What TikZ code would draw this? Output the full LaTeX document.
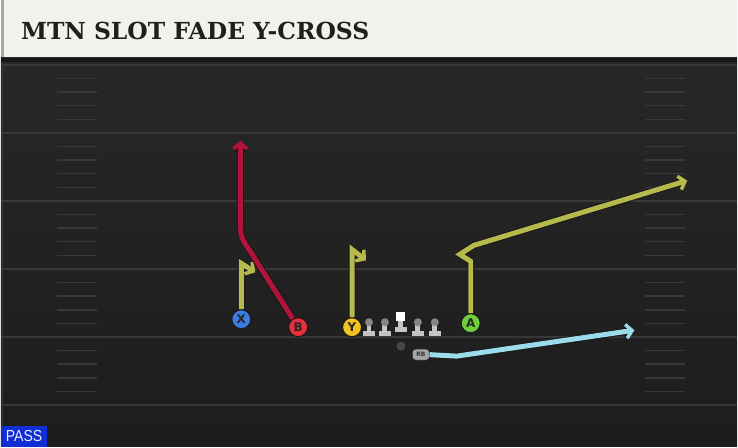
\documentclass[tikz,border=0pt]{standalone}
\usepackage{fontspec}
\usetikzlibrary{positioning, arrows.meta}

\newfontfamily\titlefont{DejaVu Serif}
\newfontfamily\labelfont{DejaVu Sans}
\newfontfamily\passfont{Liberation Sans}

\definecolor{header}{HTML}{F3F1EC}
\definecolor{fieldtop}{HTML}{272727}
\definecolor{fieldbot}{HTML}{1D1D1D}
\definecolor{yardline}{HTML}{383838}
\definecolor{routeolive}{HTML}{B6B94C}
\definecolor{routered}{HTML}{B0143A}
\definecolor{routeblue}{HTML}{9ADCEA}
\definecolor{xblue}{HTML}{3C7BE0}
\definecolor{bred}{HTML}{E5303D}
\definecolor{yyellow}{HTML}{F2C21F}
\definecolor{agreen}{HTML}{6FCF3C}
\definecolor{passblue}{HTML}{0F2ED6}
\definecolor{linegray}{HTML}{C4C4C4}

\begin{document}
\begin{tikzpicture}[x=1pt, y=-1pt,
  player/.style={draw=black!90, line width=1pt, circle, minimum size=19pt, inner sep=0pt,
    font=\labelfont\bfseries\fontsize{12}{12}\selectfont, text=black!85},
  lhead/.style={circle, fill=gray!95, minimum size=8pt, inner sep=0pt},
  route/.style={line width=5pt, -{Straight Barb[length=6pt, width=14pt, line width=0pt 0.7]},
    preaction={draw=black!90, line width=7pt}},
  hash/.style={yardline, line width=1.5pt}]

% header
\fill[header] (0,0) rectangle (738,58);
\fill[gray!70] (0,0) rectangle (3,58);
\node[anchor=west, inner sep=0pt, font=\titlefont\bfseries\fontsize{23.5}{23.5}\selectfont, text=black!88] (title) at (20,31) {MTN SLOT FADE Y-CROSS};

% field
\shade[top color=fieldtop, bottom color=fieldbot] (0,58) rectangle (738,448);
\fill[black!90] (0,58) rectangle (738,62);
\draw[yardline, line width=1pt] (2,62) -- (2,448);

\foreach \yl in {65, 133.2, 201.4, 269.6, 337.8, 406}
  \draw[yardline, line width=1.8pt] (0,\yl) -- (738,\yl);

\foreach \k in {0,...,4}
  \foreach \i in {1,...,4} {
    \pgfmathsetmacro\hy{65+68.2*\k+13.64*\i}
    \draw[hash] (56,\hy) -- (96,\hy);
    \draw[hash] (646,\hy) -- (686,\hy);
  }

% players
\node[player, fill=xblue] (X) at (241,320) {X};
\node[player, fill=bred] (B) at (298,328) {B};
\node[player, fill=yyellow] (Y) at (352,328) {Y};
\node[player, fill=agreen] (A) at (471,324) {A};

% line
\fill[linegray] (366.5,325) rectangle (371.5,334);
\fill[linegray] (363,332) rectangle (375,337);
\node[lhead] (LT) at (369,323) {};
\fill[linegray] (382.5,325) rectangle (387.5,334);
\fill[linegray] (379,332) rectangle (391,337);
\node[lhead] (LG) at (385,323) {};
\fill[linegray] (398.5,321) rectangle (403.5,330);
\fill[linegray] (395,328) rectangle (407,333);
\node[fill=white, minimum size=9pt, inner sep=0pt] (C) at (401,317.5) {};
\fill[linegray] (415.5,325) rectangle (420.5,334);
\fill[linegray] (412,332) rectangle (424,337);
\node[lhead] (RG) at (418,323) {};
\fill[linegray] (432.5,325) rectangle (437.5,334);
\fill[linegray] (429,332) rectangle (441,337);
\node[lhead] (RT) at (435,323) {};

\node[circle, fill=gray!55!black, minimum size=9pt, inner sep=0pt] (QB) at (401,347) {};
\node[draw=black!80, fill=gray!70, rounded corners=3.5pt, minimum width=17pt, minimum height=11pt, inner sep=0pt,
  font=\labelfont\bfseries\fontsize{6}{6}\selectfont, text=black!80] (RB) at (421,355.5) {RB};

% route ends
\coordinate (xend) at (255,273);
\coordinate (yend) at (366,261);
\coordinate (bend) at (240,141);
\coordinate (aend) at (688,181);
\coordinate (rbend) at (635,331);

% routes
\draw[route, routeolive] (X.north) -- (241,264) -- (xend);
\draw[route, routeolive] (Y.north) -- (352,250) -- (yend);
\draw[route, routered] (B) -- (250,252) .. controls (241,239) .. (240,226) -- (bend);
\draw[route, routeolive] (A.north) -- (471,262) -- (460,255) -- (474,246) -- (aend);
\draw[route, routeblue] (RB.east) -- (457,357) -- (rbend);

% play type
\node[fill=passblue, anchor=south west, minimum width=46pt, minimum height=21pt, inner sep=0pt,
  font=\passfont\fontsize{16}{16}\selectfont, text=white!92!blue] (pass) at (0,448) {\scalebox{0.88}[1]{PASS}};

\useasboundingbox (0,0) rectangle (738,448);
\end{tikzpicture}
\end{document}
